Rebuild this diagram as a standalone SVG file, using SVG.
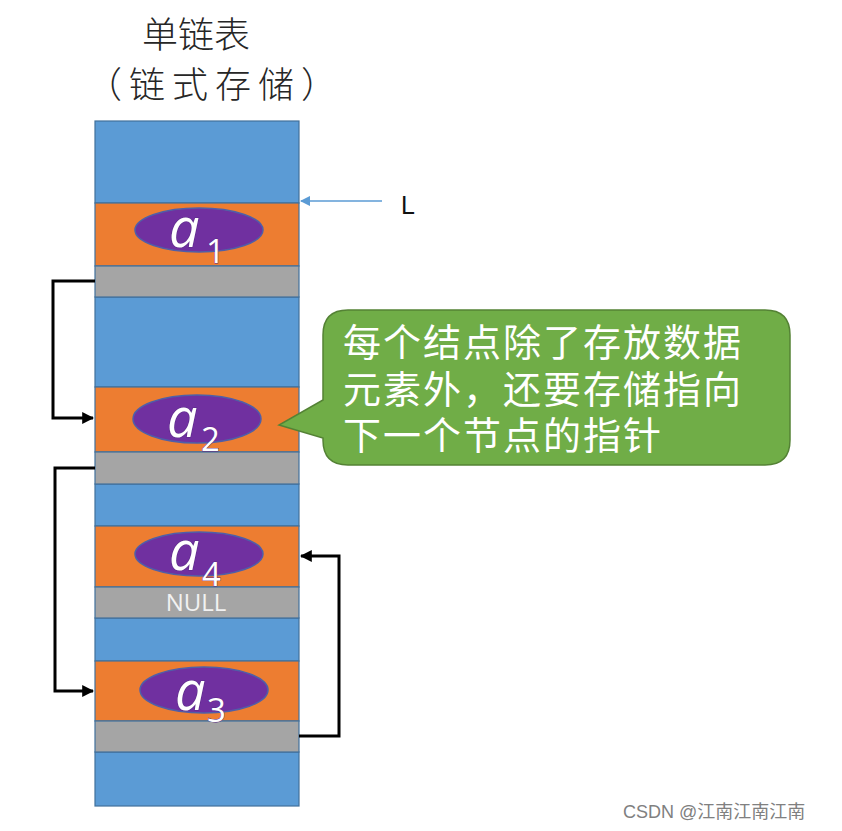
<svg xmlns="http://www.w3.org/2000/svg" width="842" height="831" viewBox="0 0 842 831">
<defs>
<style>
.blue{fill:#5b9bd5;stroke:#41719c;stroke-width:1.2}
.orange{fill:#ed7d31;stroke:#41719c;stroke-width:1.2}
.gray{fill:#a5a5a5;stroke:#41719c;stroke-width:1.2}
.ell{fill:#7030a0;stroke:#4f5fa8;stroke-width:1.5}
.a{font-family:"Open Sans","Liberation Sans",sans-serif;font-style:italic;font-size:54px;fill:#ffffff;stroke:#5a2a88;stroke-width:1.2;paint-order:stroke}
.sub{font-family:"Open Sans","Liberation Sans",sans-serif;font-size:33px;fill:#ffffff;stroke:#5a2a88;stroke-width:0.8;paint-order:stroke}
.title{font-family:"Noto Sans CJK SC",sans-serif;font-size:36px;fill:#262626;font-weight:300}
.bubble{font-family:"Noto Sans CJK SC",sans-serif;font-size:38px;fill:#ffffff;letter-spacing:2px}
.link{fill:none;stroke:#000000;stroke-width:3}
</style>
<marker id="ah" viewBox="0 0 10 10" refX="9" refY="5" markerWidth="4" markerHeight="4" orient="auto" markerUnits="strokeWidth">
<path d="M0,0 L10,5 L0,10 z" fill="#000000"/>
</marker>
<marker id="ahb" viewBox="0 0 10 10" refX="9" refY="5" markerWidth="7" markerHeight="7" orient="auto" markerUnits="strokeWidth">
<path d="M0,0 L10,5 L0,10 z" fill="#5b9bd5"/>
</marker>
</defs>
<rect width="842" height="831" fill="#ffffff"/>
<g id="title">
<text class="title" x="196" y="48" text-anchor="middle">单链表</text>
<text class="title" x="86" y="98" letter-spacing="7">（链式存储）</text>
</g>
<g id="column">
<rect class="blue" x="95" y="121" width="204" height="82"/>
<rect class="blue" x="95" y="297" width="204" height="90"/>
<rect class="blue" x="95" y="484" width="204" height="42"/>
<rect class="blue" x="95" y="618" width="204" height="43"/>
<rect class="blue" x="95" y="752" width="204" height="54"/>
</g>
<g id="node-a1">
<rect class="orange" x="95" y="203" width="204" height="63"/>
<rect class="gray" x="95" y="266" width="204" height="31"/>
<ellipse class="ell" cx="199" cy="230" rx="64" ry="22"/>
<text class="a" x="169" y="247">a</text>
<text class="sub" x="206" y="263">1</text>
</g>
<g id="node-a2">
<rect class="orange" x="95" y="387" width="204" height="65"/>
<rect class="gray" x="95" y="452" width="204" height="32"/>
<ellipse class="ell" cx="197" cy="419" rx="64" ry="24"/>
<text class="a" x="167" y="437">a</text>
<text class="sub" x="201" y="451">2</text>
</g>
<g id="node-a4">
<rect class="orange" x="95" y="526" width="204" height="61"/>
<rect class="gray" x="95" y="587" width="204" height="31"/>
<ellipse class="ell" cx="199" cy="554" rx="64" ry="22"/>
<text class="a" x="169" y="570">a</text>
<text class="sub" x="202" y="586">4</text>
<text x="196" y="611" text-anchor="middle" font-family="Open Sans, Liberation Sans, sans-serif" font-size="24" fill="#f2f2f2">NULL</text>
</g>
<g id="node-a3">
<rect class="orange" x="95" y="661" width="204" height="60"/>
<rect class="gray" x="95" y="721" width="204" height="31"/>
<ellipse class="ell" cx="204" cy="690" rx="64" ry="23"/>
<text class="a" x="175" y="710">a</text>
<text class="sub" x="207" y="722">3</text>
</g>
<g id="label-L">
<text x="401" y="214" font-family="Liberation Sans, sans-serif" font-size="25" fill="#111111">L</text>
</g>
<g id="callout">
<path d="M348,310 H765 Q790,310 790,335 V440 Q790,465 765,465 H348 Q323,465 323,440 V438 L279,425 L323,400 V335 Q323,310 348,310 Z" fill="#70ad47" stroke="#548235" stroke-width="1.5"/>
<text class="bubble" x="343" y="356">每个结点除了存放数据</text>
<text class="bubble" x="343" y="403">元素外，还要存储指向</text>
<text class="bubble" x="343" y="449">下一个节点的指针</text>
</g>
<g id="connectors">
<line x1="382" y1="201" x2="301" y2="201" stroke="#5b9bd5" stroke-width="1.5" marker-end="url(#ahb)"/>
<polyline class="link" points="95,281 53,281 53,418 93,418" marker-end="url(#ah)"/>
<polyline class="link" points="95,468 55,468 55,691 93,691" marker-end="url(#ah)"/>
<polyline class="link" points="299,736 339,736 339,556 301,556" marker-end="url(#ah)"/>
</g>
<g id="watermark">
<text x="623" y="818" font-family="Liberation Sans, Noto Sans CJK SC, sans-serif" font-size="18" fill="#808080">CSDN @江南江南江南</text>
</g>
</svg>
